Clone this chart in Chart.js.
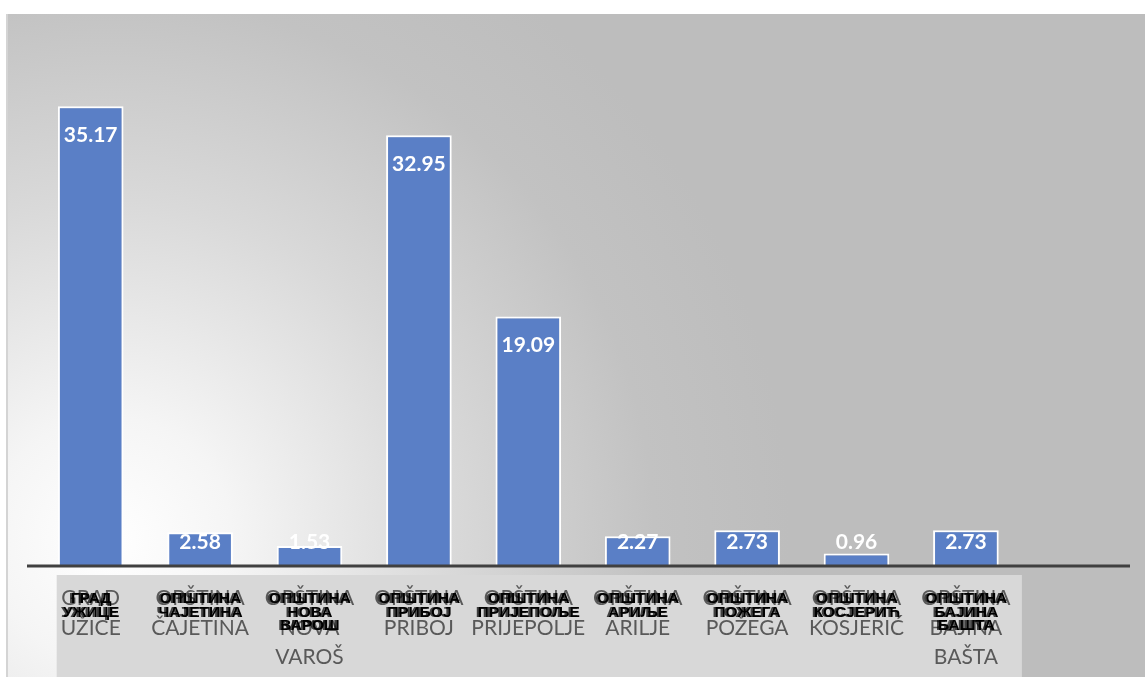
<!DOCTYPE html>
<html>
<head>
<meta charset="utf-8">
<script src="https://cdn.jsdelivr.net/npm/chart.js@4.4.1/dist/chart.umd.min.js"></script>
<style>
  html, body { margin: 0; padding: 0; background: #ffffff; }
  #wrap { width: 1145px; height: 677px; position: relative; }
  canvas { display: block; }
</style>
</head>
<body>
<div id="wrap"><canvas id="c" width="1145" height="677"></canvas></div>
<script>
// ---- data ----
const latinLabels = [
  ["GRAD", "UŽICE"],
  ["OPŠTINA", "ČAJETINA"],
  ["OPŠTINA", "NOVA", "VAROŠ"],
  ["OPŠTINA", "PRIBOJ"],
  ["OPŠTINA", "PRIJEPOLJE"],
  ["OPŠTINA", "ARILJE"],
  ["OPŠTINA", "POŽEGA"],
  ["OPŠTINA", "KOSJERIĆ"],
  ["OPŠTINA", "BAJINA", "BAŠTA"],
  ""
];
const cyrillicLabels = [
  ["ГРАД", "УЖИЦЕ"],
  ["ОПШТИНА", "ЧАЈЕТИНА"],
  ["ОПШТИНА", "НОВА", "ВАРОШ"],
  ["ОПШТИНА", "ПРИБОЈ"],
  ["ОПШТИНА", "ПРИЈЕПОЉЕ"],
  ["ОПШТИНА", "АРИЉЕ"],
  ["ОПШТИНА", "ПОЖЕГА"],
  ["ОПШТИНА", "КОСЈЕРИЋ"],
  ["ОПШТИНА", "БАЈИНА", "БАШТА"]
];
const values = [35.17, 2.58, 1.53, 32.95, 19.09, 2.27, 2.73, 0.96, 2.73];
const valueLabels = ["35.17", "2.58", "1.53", "32.95", "19.09", "2.27", "2.73", "0.96", "2.73"];

// ---- decorations ----
const backgroundPlugin = {
  id: 'bg',
  beforeDraw(chart) {
    const ctx = chart.ctx;
    const W = chart.width, H = chart.height;
    ctx.save();
    ctx.fillStyle = '#ffffff';
    ctx.fillRect(0, 0, W, H);
    const g = ctx.createRadialGradient(110, 540, 0, 110, 540, 680);
    g.addColorStop(0, '#ffffff');
    g.addColorStop(0.18, '#f5f5f5');
    g.addColorStop(0.5, '#d9d9d9');
    g.addColorStop(0.8, '#c2c2c2');
    g.addColorStop(1, '#bdbdbd');
    ctx.fillStyle = g;
    ctx.fillRect(6, 14, W - 6, H - 14);
    ctx.strokeStyle = '#d4d4d4';
    ctx.lineWidth = 2;
    ctx.beginPath();
    ctx.moveTo(7, 14);
    ctx.lineTo(7, H);
    ctx.stroke();
    // label panel
    const x = chart.scales.x;
    const left = x.getPixelForValue(0) - 34;
    const right = x.getPixelForValue(8) + 56;
    ctx.fillStyle = '#d8d8d8';
    ctx.fillRect(left, chart.chartArea.bottom + 9, right - left, H - chart.chartArea.bottom - 9);
    ctx.restore();
  }
};

const overlayPlugin = {
  id: 'overlay',
  afterDatasetsDraw(chart) {
    const ctx = chart.ctx;
    const area = chart.chartArea;
    ctx.save();
    // baseline
    ctx.strokeStyle = '#404040';
    ctx.lineWidth = 3;
    ctx.beginPath();
    ctx.moveTo(area.left - 9, area.bottom);
    ctx.lineTo(area.right, area.bottom);
    ctx.stroke();
    // value labels
    const meta = chart.getDatasetMeta(0);
    ctx.fillStyle = '#ffffff';
    ctx.font = 'bold 21px Lato';
    ctx.textAlign = 'center';
    ctx.textBaseline = 'middle';
    meta.data.forEach((bar, i) => {
      const y = Math.min(bar.y + 29, area.bottom - 24);
      ctx.fillText(valueLabels[i], bar.x, y);
    });
    ctx.restore();
  },
  afterDraw(chart) {
    const ctx = chart.ctx;
    const x = chart.scales.x;
    const top = chart.chartArea.bottom;
    ctx.save();
    ctx.fillStyle = '#000000';
    ctx.font = 'bold 15.5px "Liberation Sans"';
    ctx.textAlign = 'center';
    ctx.textBaseline = 'middle';
    cyrillicLabels.forEach((lines, i) => {
      const cx = x.getPixelForValue(i);
      lines.forEach((t, j) => {
        const y = top + 33 + j * 13.5;
        ctx.globalAlpha = 0.7;
        ctx.fillText(t, cx - 1.5, y);
        ctx.globalAlpha = 1;
        ctx.fillText(t, cx + 0.5, y);
      });
    });
    ctx.restore();
  }
};

new Chart(document.getElementById('c'), {
  type: 'bar',
  data: {
    labels: latinLabels,
    datasets: [{
      data: values,
      backgroundColor: '#5a7fc6',
      borderColor: '#ffffff',
      borderWidth: 2,
      barPercentage: 0.6,
      categoryPercentage: 1.0
    }]
  },
  options: {
    responsive: false,
    animation: false,
    devicePixelRatio: 1,
    layout: { padding: { left: 36, right: 15, top: 43, bottom: 0 } },
    plugins: { legend: { display: false }, tooltip: { enabled: false } },
    scales: {
      x: {
        grid: { display: false, drawTicks: false },
        border: { display: false },
        ticks: {
          color: '#595959',
          font: { family: 'Lato', size: 21, lineHeight: 1.4 },
          padding: 18,
          maxRotation: 0,
          autoSkip: false
        },
        afterFit(scale) { scale.height = 111; }
      },
      y: {
        display: false,
        min: 0,
        max: 40
      }
    }
  },
  plugins: [backgroundPlugin, overlayPlugin]
});
</script>
</body>
</html>
